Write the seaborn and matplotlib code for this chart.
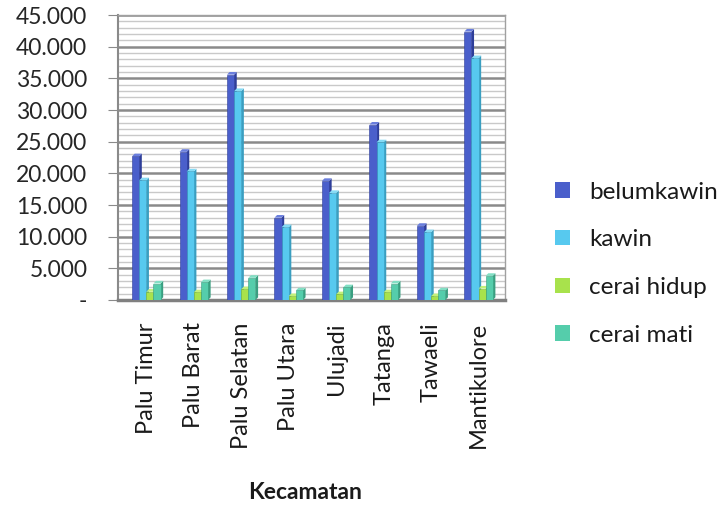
import matplotlib
matplotlib.use("Agg")
import matplotlib.pyplot as plt
from matplotlib.patches import Polygon
from matplotlib.ticker import MultipleLocator, FuncFormatter
import seaborn as sns
import pandas as pd

# Jumlah penduduk menurut status perkawinan per kecamatan
kecamatan = ["Palu Timur", "Palu Barat", "Palu Selatan", "Palu Utara",
             "Ulujadi", "Tatanga", "Tawaeli", "Mantikulore"]
belumkawin = [22700, 23400, 35600, 13000, 18800, 27700, 11700, 42400]
kawin = [18900, 20300, 33000, 11500, 16900, 24900, 10700, 38200]
cerai_hidup = [1300, 1200, 1700, 600, 900, 1200, 600, 1800]
cerai_mati = [2600, 2800, 3500, 1500, 2000, 2600, 1500, 3800]

status = ["belumkawin", "kawin", "cerai hidup", "cerai mati"]
warna = ["#4A5FCB", "#57C9EF", "#A8E24C", "#55CDAB"]
warna_sisi = ["#2E3E99", "#3A9EC0", "#7FB72E", "#3A9E80"]
warna_atas = ["#6A7EDD", "#86DBF5", "#C2F07A", "#82DFC4"]

df = pd.DataFrame({
    "Kecamatan": kecamatan * 4,
    "status": sum([[s] * len(kecamatan) for s in status], []),
    "jumlah": belumkawin + kawin + cerai_hidup + cerai_mati,
})

plt.rcParams["font.family"] = ["Lato", "DejaVu Sans"]
FS = 16.5

fig = plt.figure(figsize=(7.23, 5.05), dpi=100)
ax = fig.add_axes([0.163, 0.406, 0.535, 0.564])

sns.barplot(data=df, x="Kecamatan", y="jumlah", hue="status",
            hue_order=status, palette=warna, width=0.6, gap=0,
            errorbar=None, saturation=1, ax=ax, legend=False, zorder=3)

ax.set_ylim(0, 45000)
ax.set_xlim(-0.6, 7.55)

# depth offsets for the pseudo-3D faces (in data units)
dx, dy = 0.055, 420
for i, cont in enumerate(ax.containers):
    for p in cont.patches:
        x0, w, h = p.get_x(), p.get_width(), p.get_height()
        x1 = x0 + w
        z = 3 + i * 0.1
        p.set_zorder(z + 0.02)
        p.set_edgecolor(warna_sisi[i])
        p.set_linewidth(0.4)
        sisi = Polygon([(x1, 0), (x1 + dx, dy), (x1 + dx, h + dy), (x1, h)],
                       closed=True, facecolor=warna_sisi[i], edgecolor="none",
                       zorder=z)
        atas = Polygon([(x0, h), (x0 + dx, h + dy), (x1 + dx, h + dy), (x1, h)],
                       closed=True, facecolor=warna_atas[i], edgecolor="none",
                       zorder=z + 0.01)
        ax.add_patch(sisi)
        ax.add_patch(atas)

# back-wall grid
ax.yaxis.set_major_locator(MultipleLocator(5000))
ax.yaxis.set_minor_locator(MultipleLocator(1000))
ax.grid(axis="y", which="major", color="#8A8A8A", linewidth=1.8, zorder=0)
ax.grid(axis="y", which="minor", color="#C9C9C9", linewidth=1.0, zorder=0)
ax.grid(axis="x", visible=False)
ax.set_axisbelow(True)

def fmt(v, _):
    if v == 0:
        return "-"
    return f"{int(v):,}".replace(",", ".")

ax.yaxis.set_major_formatter(FuncFormatter(fmt))
ax.tick_params(axis="y", which="major", length=7, color="#8A8A8A",
               labelsize=FS, labelcolor="#262626", pad=15)
ax.tick_params(axis="y", which="minor", length=0)
ax.tick_params(axis="x", length=0, labelsize=17, labelcolor="#1A1A1A",
               labelrotation=90, pad=16)

for s in ["top", "right"]:
    ax.spines[s].set_color("#A0A0A0")
    ax.spines[s].set_linewidth(1.0)
ax.spines["left"].set_color("#8A8A8A")
ax.spines["left"].set_linewidth(1.5)
ax.spines["bottom"].set_color("#808080")
ax.spines["bottom"].set_linewidth(2.5)

ax.set_ylabel("")
ax.set_xlabel("")
fig.text(0.422, 0.024, "Kecamatan", fontsize=16.5, fontweight="bold",
         color="#1A1A1A", ha="center", va="center")

handles = [plt.Rectangle((0, 0), 1, 1, facecolor=c, edgecolor="none")
           for c in warna]
fig.legend(handles, status, loc="center left", bbox_to_anchor=(0.738, 0.478),
           frameon=False, fontsize=17.5, handlelength=0.6, handleheight=0.6,
           handletextpad=0.8, labelspacing=1.1, labelcolor="#1A1A1A")

fig.savefig("out.png", dpi=100, facecolor="white")
